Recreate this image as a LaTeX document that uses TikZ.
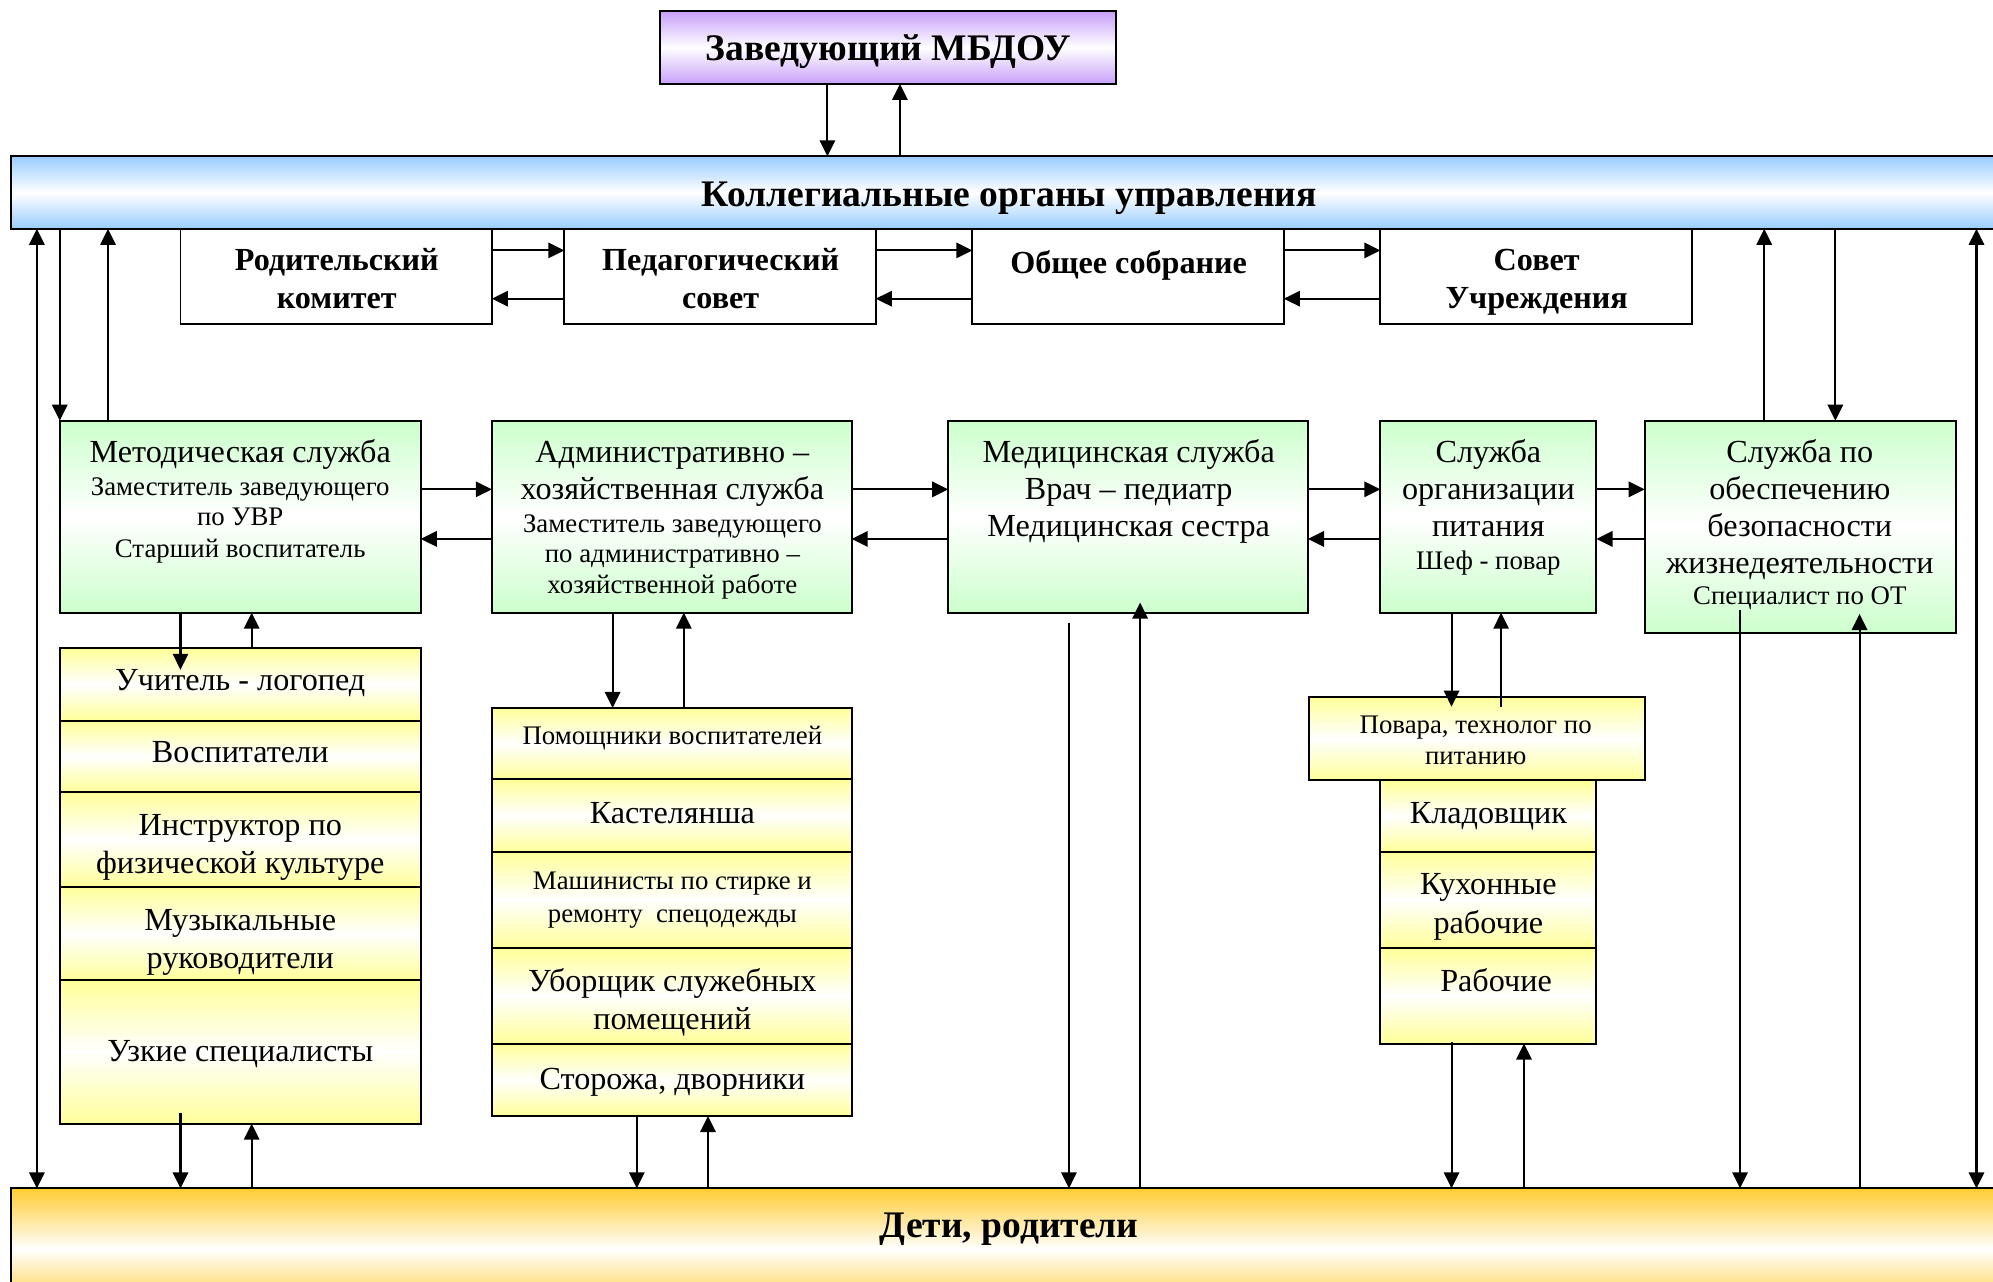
\documentclass[tikz,border=0pt]{standalone}
\usepackage{fontspec}
\setmainfont{Liberation Serif}
\usetikzlibrary{arrows.meta}
\definecolor{cpurple}{RGB}{200,160,250}
\definecolor{cblue}{RGB}{153,204,255}
\definecolor{cgreen}{RGB}{204,255,204}
\definecolor{cyellow}{RGB}{255,255,153}
\definecolor{corange}{RGB}{255,204,51}
\newcommand\bx[6]{\node[#1, minimum width={(#5-#3)*0.025cm}, minimum height={(#6-#4)*0.025cm}] (#2) at ({(#3+#5)/2},{(#4+#6)/2}) {};}
\newcommand\tl[5]{\node[#4] (#1) at (#2,#3+1.5) {#5};}
\begin{document}
\begin{tikzpicture}[x=0.025cm,y=-0.025cm,
  box/.style={draw=black, line width=1.1pt, inner sep=0pt, outer sep=0pt},
  pbox/.style={box, top color=cpurple, bottom color=cpurple, middle color=white},
  bbox/.style={box, top color=cblue, bottom color=cblue, middle color=white},
  wbox/.style={box, fill=white},
  gbox/.style={box, top color=cgreen, bottom color=cgreen, middle color=white},
  ybox/.style={box, top color=cyellow, bottom color=cyellow, middle color=white},
  obox/.style={box, top color=corange, bottom color=corange, middle color=white},
  arr/.style={line width=1.15pt, -{Triangle[length=9pt,width=8.6pt]}},
  darr/.style={line width=1.15pt, {Triangle[length=9pt,width=8.6pt]}-{Triangle[length=9pt,width=8.6pt]}},
  tB/.style={inner sep=0pt, font=\fontsize{21}{24}\selectfont\bfseries, text height=12.6pt, text depth=0pt},
  tC/.style={inner sep=0pt, font=\fontsize{18}{21}\selectfont\bfseries, text height=10.8pt, text depth=0pt},
  tR/.style={inner sep=0pt, font=\fontsize{18}{21}\selectfont, text height=10.8pt, text depth=0pt},
  tS/.style={inner sep=0pt, font=\fontsize{15}{18}\selectfont, text height=9pt, text depth=0pt},
]
\useasboundingbox (0,0) rectangle (1568,1008.6);
% boxes
\bx{pbox}{P}{519}{9}{878}{66}
\bx{bbox}{B}{9}{123}{1590}{180}
\bx{wbox}{c1}{142}{180}{387}{255}
\bx{wbox}{c2}{444}{180}{689}{255}
\bx{wbox}{c3}{765}{180}{1010}{255}
\bx{wbox}{c4}{1086}{180}{1331}{255}
\bx{gbox}{g1}{47}{331}{331}{482}
\bx{gbox}{g2}{387}{331}{670}{482}
\bx{gbox}{g3}{746}{331}{1029}{482}
\bx{gbox}{g4}{1086}{331}{1256}{482}
\bx{gbox}{g5}{1294}{331}{1539}{498}
\bx{ybox}{y1}{47}{510}{331}{567}
\bx{ybox}{y2}{47}{567}{331}{623}
\bx{ybox}{y3}{47}{623}{331}{698}
\bx{ybox}{y4}{47}{698}{331}{771}
\bx{ybox}{y5}{47}{771}{331}{884}
\bx{ybox}{a1}{387}{557}{670}{613}
\bx{ybox}{a2}{387}{613}{670}{670}
\bx{ybox}{a3}{387}{670}{670}{746}
\bx{ybox}{a4}{387}{746}{670}{821}
\bx{ybox}{a5}{387}{821}{670}{878}
\bx{ybox}{f1}{1030}{548}{1294}{614}
\bx{ybox}{f2}{1086}{614}{1256}{670}
\bx{ybox}{f3}{1086}{670}{1256}{746}
\bx{ybox}{f4}{1086}{746}{1256}{821}
\bx{obox}{O}{9}{935}{1590}{1030}
% free ends
\coordinate (k1) at (142,527);
\coordinate (k2) at (142,876);
\coordinate (k3) at (841,490);
\coordinate (k4) at (897,474);
\coordinate (k5) at (1142,556);
\coordinate (k6) at (1181,556);
\coordinate (k7) at (1142,820);
\coordinate (k8) at (1369,480);
\coordinate (k9) at (1463,483);
% connectors
\draw[arr] (P.south -| 651,0) -- (B.north -| 651,0);
\draw[arr] (B.north -| 708,0) -- (P.south -| 708,0);
\draw[arr] (c1.east |- 0,197) -- (c2.west |- 0,197);
\draw[arr] (c2.west |- 0,235) -- (c1.east |- 0,235);
\draw[arr] (c2.east |- 0,197) -- (c3.west |- 0,197);
\draw[arr] (c3.west |- 0,235) -- (c2.east |- 0,235);
\draw[arr] (c3.east |- 0,197) -- (c4.west |- 0,197);
\draw[arr] (c4.west |- 0,235) -- (c3.east |- 0,235);
\draw[darr] (B.south -| 29,0) -- (O.north -| 29,0);
\draw[arr] (B.south -| 47,0) -- (g1.north -| 47,0);
\draw[arr] (g1.north -| 85,0) -- (B.south -| 85,0);
\draw[arr] (g5.north -| 1388,0) -- (B.south -| 1388,0);
\draw[arr] (B.south -| 1444,0) -- (g5.north -| 1444,0);
\draw[darr] (B.south -| 1555,0) -- (O.north -| 1555,0);
\draw[arr] (g1.east |- 0,385) -- (g2.west |- 0,385);
\draw[arr] (g2.west |- 0,424) -- (g1.east |- 0,424);
\draw[arr] (g2.east |- 0,385) -- (g3.west |- 0,385);
\draw[arr] (g3.west |- 0,424) -- (g2.east |- 0,424);
\draw[arr] (g3.east |- 0,385) -- (g4.west |- 0,385);
\draw[arr] (g4.west |- 0,424) -- (g3.east |- 0,424);
\draw[arr] (g4.east |- 0,385) -- (g5.west |- 0,385);
\draw[arr] (g5.west |- 0,424) -- (g4.east |- 0,424);
\draw[arr] (g1.south -| k1) -- (k1);
\draw[arr] (y1.north -| 198,0) -- (g1.south -| 198,0);
\draw[arr] (k2) -- (O.north -| k2);
\draw[arr] (O.north -| 198,0) -- (y5.south -| 198,0);
\draw[arr] (g2.south -| 482,0) -- (a1.north -| 482,0);
\draw[arr] (a1.north -| 538,0) -- (g2.south -| 538,0);
\draw[arr] (a5.south -| 501,0) -- (O.north -| 501,0);
\draw[arr] (O.north -| 557,0) -- (a5.south -| 557,0);
\draw[arr] (k3) -- (O.north -| k3);
\draw[arr] (O.north -| k4) -- (k4);
\draw[arr] (g4.south -| k5) -- (k5);
\draw[arr] (k6) -- (g4.south -| k6);
\draw[arr] (k7) -- (O.north -| k7);
\draw[arr] (O.north -| 1199,0) -- (f4.south -| 1199,0);
\draw[arr] (k8) -- (O.north -| k8);
\draw[arr] (O.north -| k9) -- (k9);
% texts
\tl{tP}{699}{37}{tB}{Заведующий МБДОУ}
\tl{tBar}{794}{152}{tB}{Коллегиальные органы управления}
\tl{tO}{794}{963}{tB}{Дети, родители}
\tl{tc1a}{265}{204}{tC}{Родительский}
\tl{tc1b}{265}{234}{tC}{комитет}
\tl{tc2a}{567}{204}{tC}{Педагогический}
\tl{tc2b}{567}{234}{tC}{совет}
\tl{tc3a}{888}{206}{tC}{Общее собрание}
\tl{tc4a}{1209}{204}{tC}{Совет}
\tl{tc4b}{1209}{234}{tC}{Учреждения}
\tl{tg1a}{189}{355}{tR}{Методическая служба}
\tl{tg1b}{189}{382}{tS}{Заместитель заведующего}
\tl{tg1c}{189}{406}{tS}{по УВР}
\tl{tg1d}{189}{431}{tS}{Старший воспитатель}
\tl{tg2a}{529}{355}{tR}{Административно –}
\tl{tg2b}{529}{384}{tR}{хозяйственная служба}
\tl{tg2c}{529}{411}{tS}{Заместитель заведующего}
\tl{tg2d}{529}{435}{tS}{по административно –}
\tl{tg2e}{529}{459}{tS}{хозяйственной работе}
\tl{tg3a}{888}{355}{tR}{Медицинская служба}
\tl{tg3b}{888}{384}{tR}{Врач – педиатр}
\tl{tg3c}{888}{413}{tR}{Медицинская сестра}
\tl{tg4a}{1171}{355}{tR}{Служба}
\tl{tg4b}{1171}{384}{tR}{организации}
\tl{tg4c}{1171}{413}{tR}{питания}
\tl{tg4d}{1171}{440}{tS}{Шеф - повар}
\tl{tg5a}{1416}{355}{tR}{Служба по}
\tl{tg5b}{1416}{384}{tR}{обеспечению}
\tl{tg5c}{1416}{413}{tR}{безопасности}
\tl{tg5d}{1416}{442}{tR}{жизнедеятельности}
\tl{tg5e}{1416}{468}{tS}{Специалист по ОТ}
\tl{ty1}{189}{534}{tR}{Учитель - логопед}
\tl{ty2}{189}{591}{tR}{Воспитатели}
\tl{ty3a}{189}{648}{tR}{Инструктор по}
\tl{ty3b}{189}{678}{tR}{физической культуре}
\tl{ty4a}{189}{723}{tR}{Музыкальные}
\tl{ty4b}{189}{753}{tR}{руководители}
\tl{ty5}{189}{826}{tR}{Узкие специалисты}
\tl{ta1}{529}{578}{tS}{Помощники воспитателей}
\tl{ta2}{529}{639}{tR}{Кастелянша}
\tl{ta3a}{529}{692}{tS}{Машинисты по стирке и}
\tl{ta3b}{529}{718}{tS}{ремонту\ \ спецодежды}
\tl{ta4a}{529}{771}{tR}{Уборщик служебных}
\tl{ta4b}{529}{801}{tR}{помещений}
\tl{ta5}{529}{848}{tR}{Сторожа, дворники}
\tl{tf1a}{1161}{569}{tS}{Повара, технолог по}
\tl{tf1b}{1161}{594}{tS}{питанию}
\tl{tf2}{1171}{639}{tR}{Кладовщик}
\tl{tf3a}{1171}{695}{tR}{Кухонные}
\tl{tf3b}{1171}{725}{tR}{рабочие}
\tl{tf4}{1177}{771}{tR}{Рабочие}
\end{tikzpicture}
\end{document}
